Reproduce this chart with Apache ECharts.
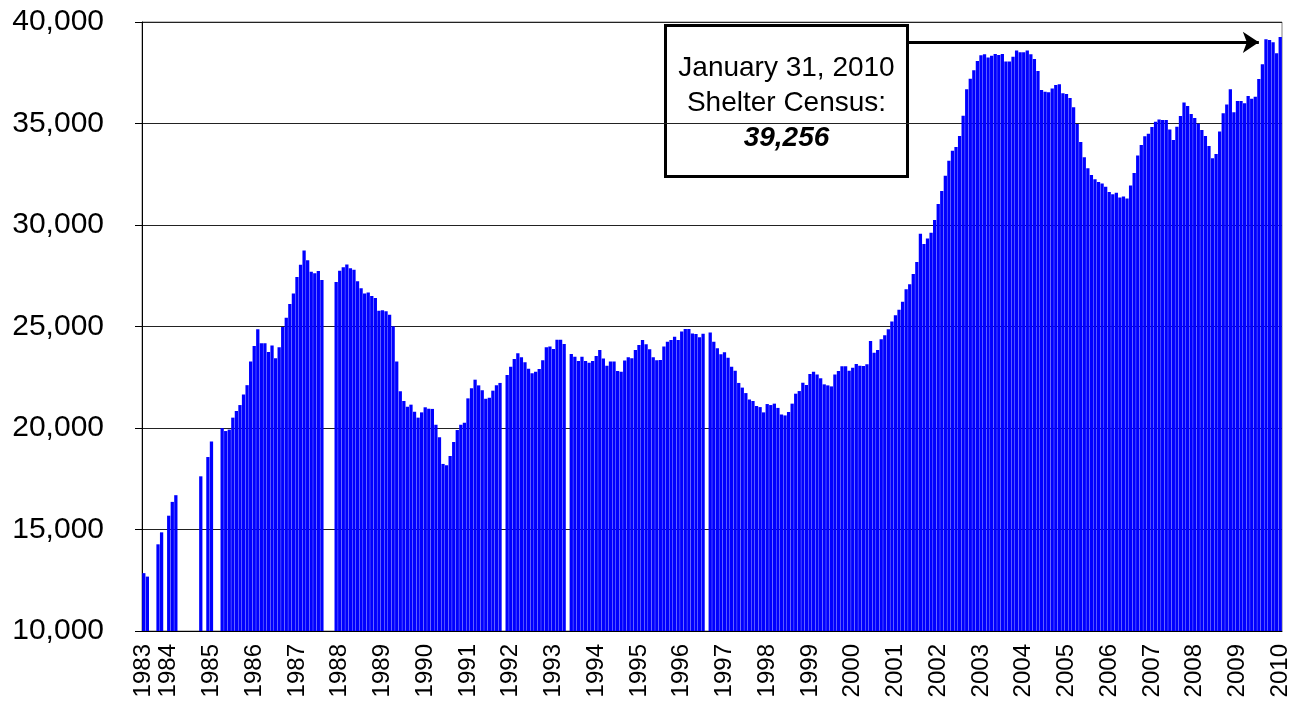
<!DOCTYPE html>
<html>
<head>
<meta charset="utf-8">
<title>Shelter Census</title>
<script src="https://cdn.jsdelivr.net/npm/echarts@6/dist/echarts.min.js"></script>
<style>
    html, body { margin: 0; padding: 0; background: #fff; }
    #chart { width: 1294px; height: 704px; }
</style>
</head>
<body>
<div id="chart"></div>
<script>
// year labels on the x axis (one tick label per year block)
var years = ['1983', '1984', '1985', '1986', '1987', '1988', '1989', '1990', '1991', '1992',
    '1993', '1994', '1995', '1996', '1997', '1998', '1999', '2000', '2001', '2002',
    '2003', '2004', '2005', '2006', '2007', '2008', '2009', '2010'];

// shelter census per report, grouped by year (null = no report)
var c1983 = [12850, 12680, null, null, 14270, 14860, null];
var c1984 = [15680, 16360, 16690, null, null, null, null, null, null, 17620, null, 18570];
var c1985 = [19330, null, null, 19990, 19850, 19920, 20510, 20840, 21130, 21650, 22110, 23270];
var c1986 = [24040, 24860, 24170, 24170, 23740, 24070, 23430, 23980, 24980, 25430, 26110, 26630];
var c1987 = [27440, 28040, 28750, 28260, 27700, 27620, 27730, 27290, null, null, null, 27190];
var c1988 = [27750, 27920, 28060, 27870, 27800, 27230, 26880, 26630, 26680, 26500, 26400, 25780];
var c1989 = [25800, 25750, 25580, 25010, 23270, 21810, 21330, 21050, 21150, 20800, 20510, 20770];
var c1990 = [21020, 20950, 20940, 20160, 19540, 18230, 18160, 18620, 19310, 19900, 20160, 20260];
var c1991 = [21460, 21960, 22380, 22100, 21860, 21440, 21490, 21840, 22100, 22220, null, 22610];
var c1992 = [23020, 23400, 23680, 23490, 23240, 22920, 22700, 22770, 22910, 23340, 23980, 24010];
var c1993 = [23890, 24350, 24350, 24140, null, 23650, 23510, 23300, 23510, 23300, 23220, 23300];
var c1994 = [23550, 23840, 23420, 23070, 23270, 23270, 22810, 22770, 23320, 23480, 23430, 23840];
var c1995 = [24090, 24340, 24120, 23880, 23480, 23340, 23350, 24010, 24250, 24340, 24500, 24340];
var c1996 = [24750, 24880, 24880, 24660, 24630, 24470, 24640, null, 24700, 24250, 23930, 23630];
var c1997 = [23730, 23460, 23020, 22820, 22220, 21990, 21720, 21410, 21330, 21080, 21030, 20770];
var c1998 = [21180, 21130, 21200, 20990, 20660, 20620, 20790, 21200, 21690, 21820, 22230, 22120];
var c1999 = [22660, 22770, 22640, 22450, 22150, 22100, 22050, 22640, 22810, 23040, 23040, 22820];
var c2000 = [22970, 23150, 23070, 23050, 23140, 24290, 23710, 23840, 24370, 24570, 24860, 25250];
var c2001 = [25550, 25830, 26220, 26830, 27080, 27590, 28180, 29570, 29060, 29330, 29620, 30250];
var c2002 = [31030, 31680, 32430, 33170, 33660, 33840, 34380, 35380, 36690, 37210, 37620, 38080];
var c2003 = [38360, 38410, 38250, 38340, 38420, 38370, 38420, 38060, 38060, 38290, 38590, 38510];
var c2004 = [38510, 38590, 38410, 38180, 37590, 36650, 36570, 36540, 36730, 36900, 36930, 36490];
var c2005 = [36450, 36260, 35800, 34980, 34090, 33340, 32790, 32460, 32250, 32120, 32050, 31890];
var c2006 = [31630, 31510, 31590, 31350, 31400, 31300, 31940, 32560, 33420, 33940, 34370, 34500];
var c2007 = [34830, 35090, 35200, 35170, 35170, 34710, 34190, 34840, 35370, 36040, 35860, 35470];
var c2008 = [35270, 34990, 34680, 34380, 33890, 33290, 33500, 34610, 35500, 35930, 36690, 35550];
var c2009 = [36110, 36110, 36000, 36360, 36220, 36320, 37190, 37920, 39150, 39110, 39000, 38460];
var c2010 = [39256];

var byYear = [c1983, c1984, c1985, c1986, c1987, c1988, c1989, c1990, c1991, c1992,
    c1993, c1994, c1995, c1996, c1997, c1998, c1999, c2000, c2001, c2002,
    c2003, c2004, c2005, c2006, c2007, c2008, c2009, c2010];

// annotation
var noteLines = ['January 31, 2010', 'Shelter Census:', '39,256'];
var arrowValue = 39000;

var categories = [];
var values = [];
byYear.forEach(function (arr, i) {
    arr.forEach(function (v, k) {
        categories.push(years[i] + '-' + k);
        values.push(v);
    });
});

var font = 'Arial, "Liberation Sans", sans-serif';

var chart = echarts.init(document.getElementById('chart'));
chart.setOption({
    animation: false,
    grid: {
        left: 142,
        right: 12,
        top: 22,
        bottom: 73,
        show: true,
        borderColor: '#808080',
        borderWidth: 1
    },
    xAxis: {
        type: 'category',
        data: categories,
        axisLine: {lineStyle: {color: '#000', width: 1}},
        axisTick: {show: false},
        axisLabel: {
            interval: 0,
            rotate: 90,
            margin: 13,
            fontSize: 24,
            fontFamily: font,
            color: '#000',
            formatter: function (val) {
                var p = val.split('-');
                return p[1] === '0' ? p[0] : '';
            }
        },
        splitLine: {show: false}
    },
    yAxis: {
        type: 'value',
        min: 10000,
        max: 40000,
        interval: 5000,
        axisLine: {show: true, lineStyle: {color: '#000', width: 1}},
        axisTick: {show: true, length: 7, lineStyle: {color: '#000'}},
        axisLabel: {
            margin: 38,
            fontSize: 30,
            fontFamily: font,
            color: '#000',
            formatter: function (v) {
                return v.toLocaleString('en-US');
            }
        },
        splitLine: {lineStyle: {color: '#222', width: 1}}
    },
    series: [{
        type: 'bar',
        data: values,
        barCategoryGap: '8%',
        itemStyle: {color: '#0000ff'},
        markLine: {
            silent: true,
            animation: false,
            symbol: ['none', 'arrow'],
            symbolSize: 16,
            label: {show: false},
            lineStyle: {color: '#000', width: 3, type: 'solid'},
            data: [[
                {coord: [categories[214], arrowValue]},
                {coord: [categories[313], arrowValue]}
            ]]
        }
    }],
    graphic: [{
        type: 'group',
        left: 664,
        top: 24,
        children: [
            {
                type: 'rect',
                shape: {x: 0, y: 0, width: 242, height: 151},
                style: {fill: '#fff', stroke: '#000', lineWidth: 3}
            },
            {
                type: 'text',
                x: 121, y: 43,
                style: {text: noteLines[0], font: '28px ' + font, fill: '#000',
                    textAlign: 'center', textVerticalAlign: 'middle'}
            },
            {
                type: 'text',
                x: 121, y: 78,
                style: {text: noteLines[1], font: '28px ' + font, fill: '#000',
                    textAlign: 'center', textVerticalAlign: 'middle'}
            },
            {
                type: 'text',
                x: 121, y: 113,
                style: {text: noteLines[2], font: 'italic bold 28px ' + font, fill: '#000',
                    textAlign: 'center', textVerticalAlign: 'middle'}
            }
        ]
    }]
});
</script>
</body>
</html>
